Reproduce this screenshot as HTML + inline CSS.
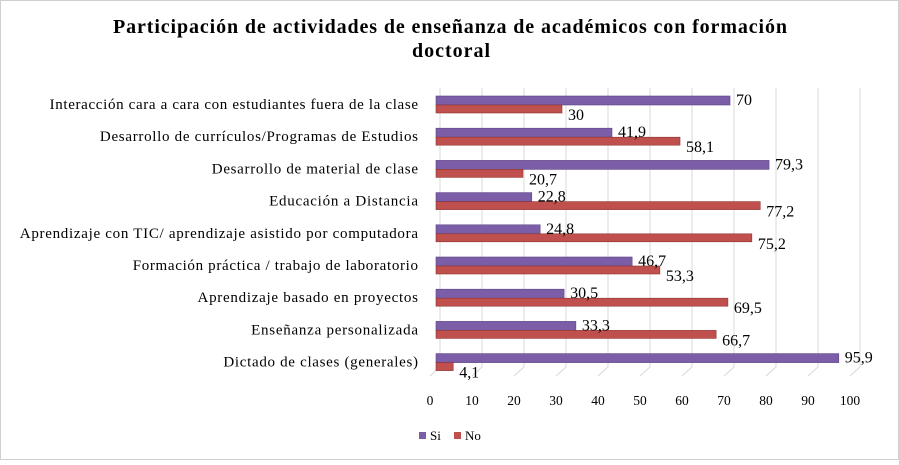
<!DOCTYPE html>
<html><head><meta charset="utf-8"><style>
body{margin:0;background:#fff}
svg text{font-family:"Liberation Serif",serif;fill:#000}
</style></head><body>
<svg id="c" width="899" height="460" xmlns="http://www.w3.org/2000/svg">
<rect x="0.5" y="0.5" width="898" height="459" fill="#fff" stroke="#d0d0d0"/>
<text x="450" y="33" text-anchor="middle" font-size="20" font-weight="bold" textLength="674" lengthAdjust="spacing">Participación de actividades de enseñanza de académicos con formación</text>
<text x="451" y="57" text-anchor="middle" font-size="20" font-weight="bold" textLength="78" lengthAdjust="spacing">doctoral</text>
<g id="grid"></g><g id="bars"></g><g id="labels"></g>
<g>
<rect x="419" y="432" width="7" height="7" fill="#7b5ea7"/>
<text x="430" y="440" font-size="13">Si</text>
<rect x="454" y="432" width="7" height="7" fill="#c0504d"/>
<text x="465" y="440" font-size="13">No</text>
</g>
</svg>
<script>
const categories=["Interacción cara a cara con estudiantes fuera de la clase","Desarrollo de currículos/Programas de Estudios","Desarrollo de material de clase","Educación a Distancia","Aprendizaje con TIC/ aprendizaje asistido por computadora","Formación práctica / trabajo de laboratorio","Aprendizaje basado en proyectos","Enseñanza personalizada","Dictado de clases (generales)"];
const siValues=[70,41.9,79.3,22.8,24.8,46.7,30.5,33.3,95.9];
const noValues=[30,58.1,20.7,77.2,75.2,53.3,69.5,66.7,4.1];
const ticks=[0,10,20,30,40,50,60,70,80,90,100];
const NS="http://www.w3.org/2000/svg";
const x=v=>436+v*4.2;
const rowY=i=>100+i*32.2;
function el(t,a,p){const e=document.createElementNS(NS,t);for(const k in a)e.setAttribute(k,a[k]);document.getElementById(p).appendChild(e);return e;}
const fmt=v=>String(v).replace('.',',');
ticks.forEach(t=>{
 const g=el('path',{d:`M${x(t)+4} 88 V367 L${x(t)-6} 376`,stroke:'#d9d9d9',fill:'none'},'grid');
 
 
 const tl=el('text',{x:x(t)-6,y:405,'text-anchor':'middle','font-size':13.5},'labels');tl.textContent=t;
 
 
});
categories.forEach((c,i)=>{
 const y=rowY(i);
 const cl=el('text',{x:418,y:y+9,'text-anchor':'end','font-size':15},'labels');cl.textContent=c;
 
 
 const w=cl.getComputedTextLength();
 cl.setAttribute('textLength',(w*1.11).toFixed(1));
 cl.setAttribute('lengthAdjust','spacing');
 const s=el('rect',{x:x(0),y:y-4,width:x(siValues[i])-x(0),height:9,fill:'#7b5ea7',stroke:'#5e4585','stroke-width':0.6},'bars');
 
 
 const n=el('rect',{x:x(0),y:y+5,width:x(noValues[i])-x(0),height:8,fill:'#c0504d',stroke:'#8e3330','stroke-width':0.6},'bars');
 
 
 const sl=el('text',{x:x(siValues[i])+6,y:y+5,'font-size':16},'labels');sl.textContent=fmt(siValues[i]);
 
 
 const nl=el('text',{x:x(noValues[i])+6,y:y+20,'font-size':16},'labels');nl.textContent=fmt(noValues[i]);
 
 
});
</script>
</body></html>
